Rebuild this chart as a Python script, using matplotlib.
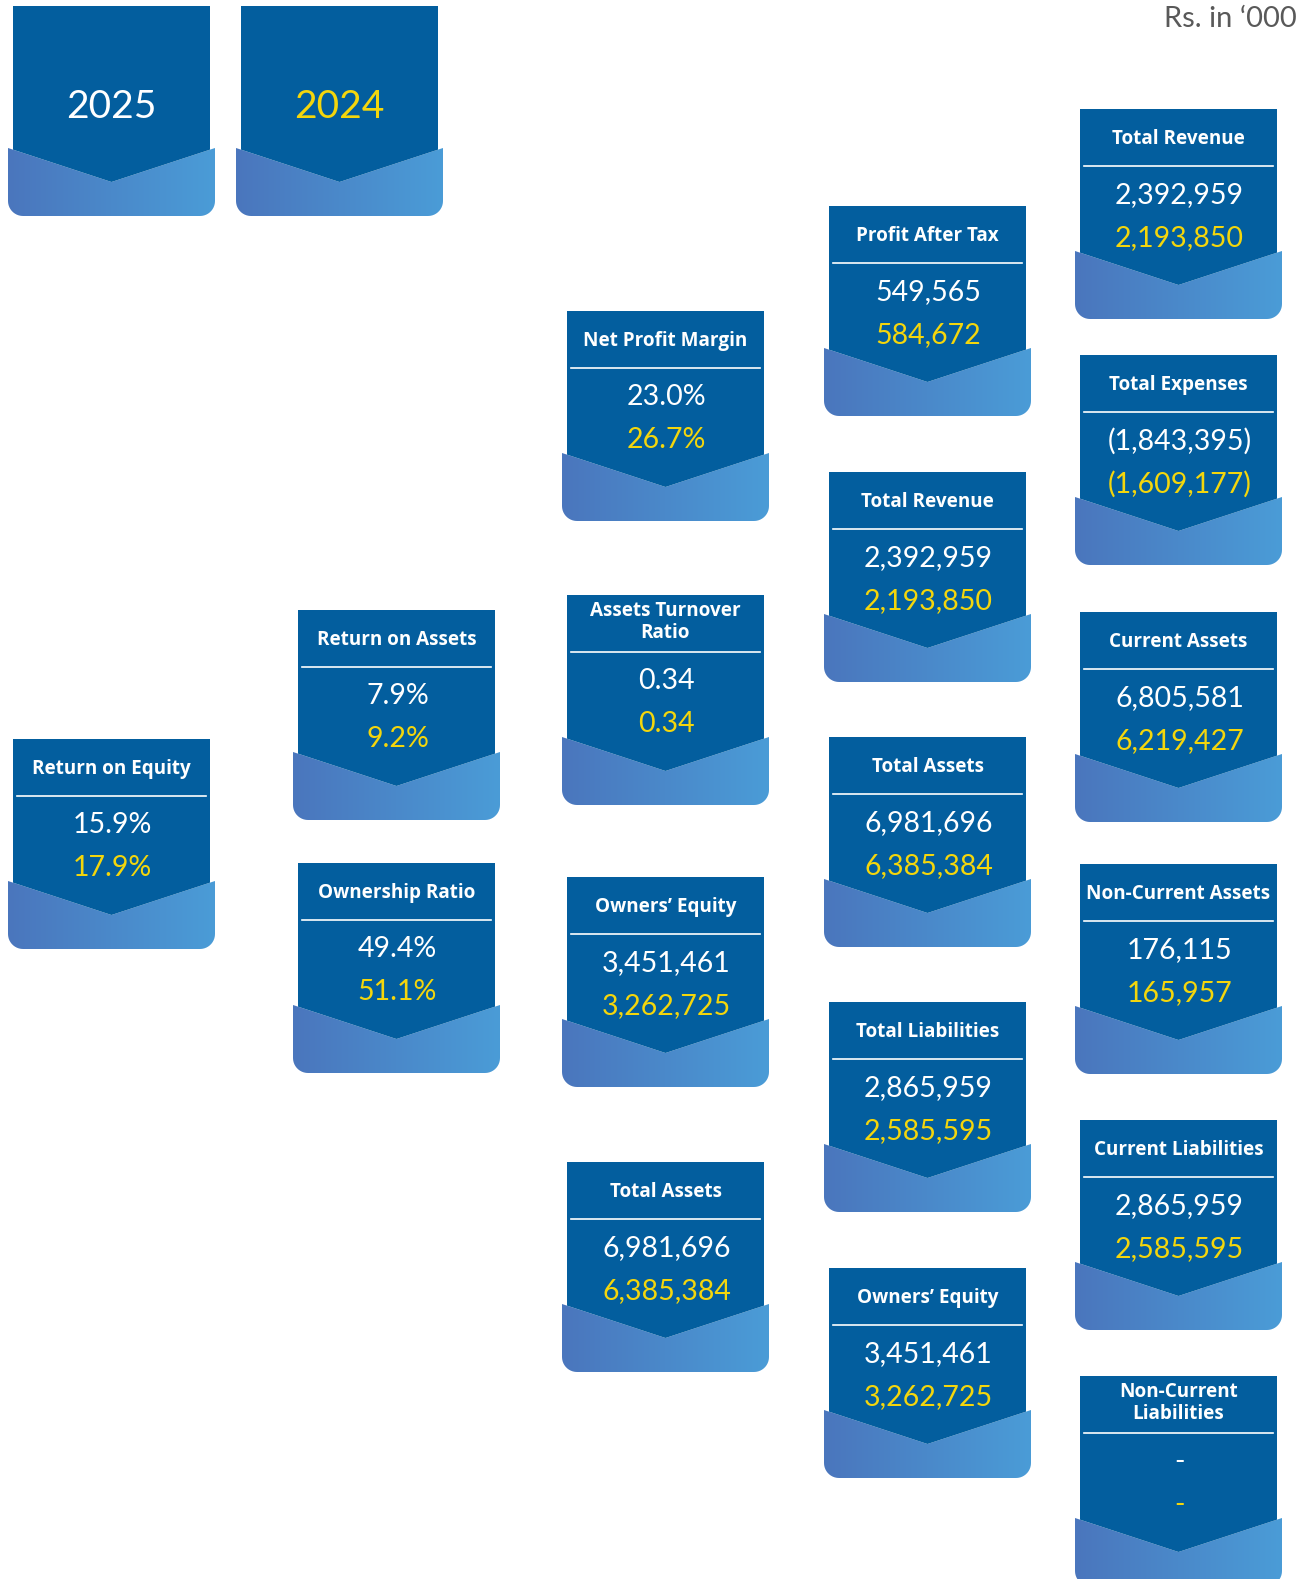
import numpy as np
import matplotlib
matplotlib.use("Agg")
import matplotlib.pyplot as plt
from matplotlib.path import Path
from matplotlib.patches import PathPatch, Polygon
from matplotlib.colors import LinearSegmentedColormap

# Data ---------------------------------------------------------------------------------------------
years = ["2025", "2024"]
titles = ["Return on Equity", "Return on Assets", "Ownership Ratio",
          "Net Profit Margin", "Assets Turnover\nRatio", "Owners\u2019 Equity", "Total Assets",
          "Profit After Tax", "Total Revenue", "Total Assets", "Total Liabilities", "Owners\u2019 Equity",
          "Total Revenue", "Total Expenses", "Current Assets", "Non-Current Assets",
          "Current Liabilities", "Non-Current\nLiabilities"]
values_2025 = ["15.9%", "7.9%", "49.4%",
               "23.0%", "0.34", "3,451,461", "6,981,696",
               "549,565", "2,392,959", "6,981,696", "2,865,959", "3,451,461",
               "2,392,959", "(1,843,395)", "6,805,581", "176,115",
               "2,865,959", "-"]
values_2024 = ["17.9%", "9.2%", "51.1%",
               "26.7%", "0.34", "3,262,725", "6,385,384",
               "584,672", "2,193,850", "6,385,384", "2,585,595", "3,262,725",
               "2,193,850", "(1,609,177)", "6,219,427", "165,957",
               "2,585,595", "-"]
unit_note = "Rs. in \u2018000"

# Layout (pixel coords of each card: column left edge, card top) -----------------------------------
col_x = [13, 298, 567, 829, 1080]
card_col = [0, 1, 1, 2, 2, 2, 2, 3, 3, 3, 3, 3, 4, 4, 4, 4, 4, 4]
card_top = [739, 610, 863, 311, 595, 877, 1162, 206, 472, 737, 1002, 1268,
            109, 355, 612, 864, 1120, 1376]
year_x = [13, 241]
year_top = 6

W = 197
DARK = "#035e9e"
YELLOW = "#f4d60c"
band_cmap = LinearSegmentedColormap.from_list("band", ["#4a76bd", "#4b9cd7"])
grad = np.linspace(0, 1, 256).reshape(1, -1)

fig = plt.figure(figsize=(13.12, 15.79), dpi=100)
ax = fig.add_axes([0, 0, 1, 1])
ax.axis("off")


def card(x0, top):
    xl, xr = x0 - 5, x0 + W + 5
    xc = x0 + W / 2
    ys, apex, yb = top + 142, top + 176, top + 210
    r = 15
    pts = [(xl, ys), (xl, yb - r)]
    for t in np.linspace(np.pi, np.pi / 2, 12):
        pts.append((xl + r + r * np.cos(t), yb - r + r * np.sin(t)))
    for t in np.linspace(np.pi / 2, 0, 12):
        pts.append((xr - r + r * np.cos(t), yb - r + r * np.sin(t)))
    pts += [(xr, ys), (xc, apex), (xl, ys)]
    patch = PathPatch(Path(pts), facecolor="none", edgecolor="none", transform=ax.transData)
    ax.add_patch(patch)
    im = ax.imshow(grad, cmap=band_cmap, extent=[xl, xr, yb, ys], aspect="auto",
                   interpolation="bilinear", zorder=1)
    im.set_clip_path(patch)
    d = 5 * (apex - ys) / (xc - xl)
    ax.add_patch(Polygon([(x0, top), (x0 + W, top), (x0 + W, ys + d), (xc, apex), (x0, ys + d)],
                         closed=True, facecolor=DARK, edgecolor="none", zorder=2))


# year header cards
for x0, yr, col in zip(year_x, years, ["white", YELLOW]):
    card(x0, year_top)
    ax.text(x0 + W / 2, year_top + 101, yr, color=col, fontsize=28, family="Lato",
            ha="center", va="center", zorder=3)

# metric cards
for i in range(len(titles)):
    x0 = col_x[card_col[i]]
    top = card_top[i]
    card(x0, top)
    xc = x0 + W / 2
    two_lines = "\n" in titles[i]
    ax.text(xc, top + (27 if two_lines else 30), titles[i], color="white", fontsize=13.6,
            family="Open Sans", weight="bold", ha="center", va="center", linespacing=1.1, zorder=3)
    ax.plot([x0 + 4, x0 + W - 4], [top + 57, top + 57], color="white", lw=1.2, zorder=3)
    ax.text(xc + 1, top + 86, values_2025[i], color="white", fontsize=20.5, family="Lato",
            ha="center", va="center", zorder=3)
    ax.text(xc + 1, top + 129, values_2024[i], color=YELLOW, fontsize=20.5, family="Lato",
            ha="center", va="center", zorder=3)

ax.text(1297, 19, unit_note, color="#595959", fontsize=21, family="Lato",
        ha="right", va="center")

ax.set_xlim(0, 1312)
ax.set_ylim(1579, 0)
fig.savefig("out.png", dpi=100, facecolor="white")
